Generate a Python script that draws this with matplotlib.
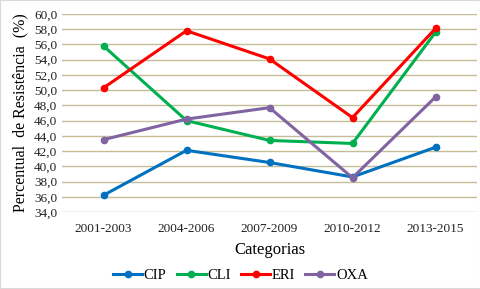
import matplotlib
matplotlib.use("Agg")
import matplotlib.pyplot as plt
from matplotlib.ticker import FuncFormatter, MultipleLocator
from matplotlib.patches import Rectangle

plt.rcParams['font.family'] = ['Liberation Serif', 'DejaVu Serif']

categories = ["2001-2003", "2004-2006", "2007-2009", "2010-2012", "2013-2015"]
cip = [36.2, 42.1, 40.5, 38.6, 42.5]
cli = [55.8, 46.0, 43.4, 43.0, 57.6]
eri = [50.3, 57.8, 54.1, 46.4, 58.1]
oxa = [43.5, 46.2, 47.7, 38.5, 49.1]
series = [("CIP", cip, "#0070C0"), ("CLI", cli, "#00B050"),
          ("ERI", eri, "#FF0000"), ("OXA", oxa, "#8064A2")]

fig = plt.figure(figsize=(4.81, 2.89), dpi=100)
ax = fig.add_axes([62/481, 1-212/289, 415/481, 198/289])
x = list(range(len(categories)))
for name, vals, col in series:
    ax.plot(x, vals, color=col, lw=2.2, marker='o', ms=4.5, label=name, zorder=3)

ax.set_xlim(-0.5, 4.5)
ax.set_ylim(34, 60)
ax.yaxis.set_major_locator(MultipleLocator(2))
ax.yaxis.set_major_formatter(FuncFormatter(lambda v, p: f"{v:.1f}".replace('.', ',')))
ax.set_xticks(x)
ax.set_xticklabels(categories)
ax.grid(axis='y', color='#C4BD97', lw=1)
ax.set_axisbelow(True)
for s in ax.spines.values():
    s.set_visible(False)
ax.tick_params(axis='both', length=0, labelsize=9.5, colors='#222222')
ax.tick_params(axis='x', pad=8)
ax.set_ylabel("Percentual  de Resistência  (%)", fontsize=11.5, labelpad=4)
ax.set_xlabel("Categorias", fontsize=12, labelpad=5)
leg = fig.legend(loc='center', bbox_to_anchor=(0.5, 1-275/289), ncol=4, frameon=False,
                 fontsize=10.5, handlelength=2.0, columnspacing=0.7, handletextpad=0.1,
                 borderaxespad=0)
fig.patches.append(Rectangle((0, 0), 1, 1, transform=fig.transFigure, fill=False,
                             edgecolor='#D9D9D9', lw=1.5))
fig.savefig("out.png", dpi=100)
